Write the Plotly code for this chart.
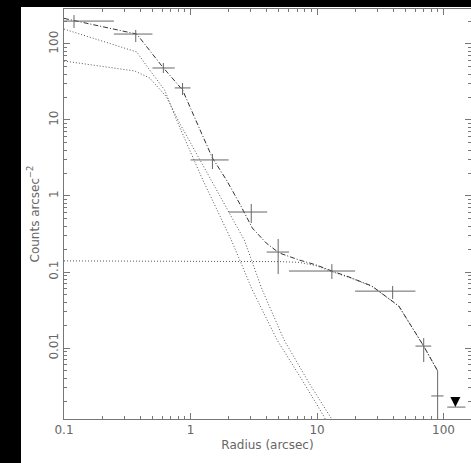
import plotly.graph_objects as go

# Measured surface-brightness profile (crosses)
radius = [0.12, 0.369, 0.61, 0.865, 1.49, 3.02, 4.93, 13.1, 39.6, 69.7, 89.8]
counts = [200, 135, 48.3, 26.4, 2.98, 0.615, 0.183, 0.103, 0.056, 0.0106, 0.00234]
r_lo = [0.10, 0.248, 0.50, 0.75, 1.0, 2.0, 4.0, 6.0, 20, 60, 80]
r_hi = [0.248, 0.50, 0.75, 1.0, 2.0, 4.04, 6.0, 20, 60, 80, 100]
c_hi = [240, 153, 56.2, 30.7, 3.57, 0.785, 0.272, 0.127, 0.0655, 0.0135, 0.0050]
c_lo = [162, 106, 41.5, 21.3, 2.26, 0.441, 0.094, 0.081, 0.0442, 0.00655, 1e-6]

# Upper limit
ul_r = [124]
ul_c = [0.00167]
ul_r_lo = [107]
ul_r_hi = [149]

# Model: total (dash-dot)
total_r = [0.1, 0.376, 0.602, 0.865, 1.49, 1.92, 2.43, 3.08, 3.96, 5.02, 7.21, 9.82,
           13.1, 17.9, 27.1, 44.3, 69.7, 89.8]
total_c = [217, 135, 49.8, 24.8, 3.16, 1.63, 0.809, 0.379, 0.241, 0.178, 0.144, 0.124,
           0.103, 0.086, 0.0654, 0.0357, 0.0106, 0.0050]

# Model components (dotted)
compA_r = [0.1, 0.376, 0.475, 0.624, 0.776, 0.982, 1.22, 2.10, 3.08, 4.84, 7.62, 11.4, 12.5]
compA_c = [157, 78.5, 45.5, 24.8, 10, 4.03, 1.78, 0.264, 0.058, 0.0127, 0.0038, 0.00124, 0.0009]
compB_r = [0.1, 0.362, 0.475, 0.647, 0.818, 1.07, 1.41, 2.66, 3.69, 5.50, 8.65, 12.9, 14.0]
compB_c = [59.7, 44.1, 35.7, 20.1, 9.14, 4.03, 1.78, 0.264, 0.058, 0.0127, 0.00347, 0.0012, 0.0009]
compC_r = [0.1, 3.0, 5.0, 7.21, 9.82, 13.1, 17.9, 27.1, 44.3, 69.7, 89.8]
compC_c = [0.14, 0.14, 0.137, 0.134, 0.121, 0.101, 0.085, 0.065, 0.0355, 0.0105, 0.005]

GREY = "#666666"
FONT = "DejaVu Sans"

fig = go.Figure()

for rr, cc in [(compA_r, compA_c), (compB_r, compB_c), (compC_r, compC_c)]:
    fig.add_trace(go.Scatter(x=rr, y=cc, mode="lines",
                             line=dict(color="#555555", width=1, dash="1px,2px"),
                             showlegend=False, hoverinfo="skip"))

fig.add_trace(go.Scatter(x=total_r, y=total_c, mode="lines",
                         line=dict(color="#333333", width=1, dash="5px,2px,1px,2px"),
                         showlegend=False, hoverinfo="skip"))

fig.add_trace(go.Scatter(
    x=radius, y=counts, mode="markers",
    marker=dict(size=1, color="rgba(0,0,0,0)"),
    error_x=dict(type="data", symmetric=False,
                 array=[h - r for h, r in zip(r_hi, radius)],
                 arrayminus=[r - l for l, r in zip(r_lo, radius)],
                 color=GREY, thickness=1, width=0),
    error_y=dict(type="data", symmetric=False,
                 array=[h - c for h, c in zip(c_hi, counts)],
                 arrayminus=[c - l for l, c in zip(c_lo, counts)],
                 color=GREY, thickness=1, width=0),
    showlegend=False))

fig.add_trace(go.Scatter(
    x=ul_r, y=ul_c, mode="markers",
    marker=dict(symbol="arrow-down", size=10, color="black"),
    error_x=dict(type="data", symmetric=False,
                 array=[h - r for h, r in zip(ul_r_hi, ul_r)],
                 arrayminus=[r - l for l, r in zip(ul_r_lo, ul_r)],
                 color=GREY, thickness=1, width=0),
    showlegend=False))

axis_common = dict(
    type="log", showgrid=False, zeroline=False,
    showline=True, linecolor="#777777", linewidth=1, mirror="ticks",
    ticks="inside", ticklen=6, tickcolor="#777777", tickwidth=1,
    tickmode="linear", tick0=0, dtick=1, exponentformat="none",
    tickfont=dict(family=FONT, size=12, color=GREY),
    minor=dict(ticks="inside", ticklen=3, tickcolor="#777777", showgrid=False, dtick="D1"),
)

fig.update_xaxes(**axis_common, range=[-1, 2.217],
                 title=dict(text="Radius (arcsec)",
                            font=dict(family=FONT, size=12, color=GREY), standoff=4))
fig.update_yaxes(**axis_common, range=[-2.934, 2.46], tickangle=-90,
                 title=dict(text="Counts arcsec<sup>\u22122</sup>",
                            font=dict(family=FONT, size=12, color=GREY), standoff=5))

fig.update_layout(
    width=471, height=463,
    margin=dict(l=64, r=0, t=9, b=44),
    paper_bgcolor="white", plot_bgcolor="white",
    shapes=[
        dict(type="rect", xref="paper", yref="paper", x0=-64/407, x1=-43/407,
             y0=-44/410, y1=1 + 9/410, fillcolor="black", line=dict(width=0), layer="below"),
        dict(type="rect", xref="paper", yref="paper", x0=-64/407, x1=1.01,
             y0=1 + 2/410, y1=1 + 9/410, fillcolor="black", line=dict(width=0), layer="below"),
    ],
)

post = """
document.documentElement.style.cssText='margin:0;padding:0;overflow:hidden;background:white;width:100%;height:100%;';
document.body.style.cssText='margin:0;padding:0;overflow:hidden;background:white;width:100%;height:100%;';
var gd=document.getElementById('{plot_id}');
gd.style.position='fixed'; gd.style.left='0px'; gd.style.top='0px';
"""

fig.write_html("out.html", config={"displayModeBar": False}, post_script=post)
